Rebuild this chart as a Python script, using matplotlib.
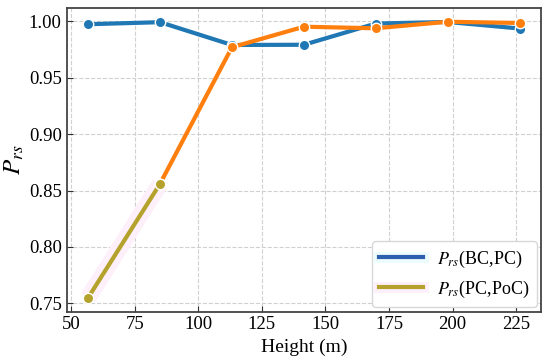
import matplotlib
matplotlib.use("Agg")
import matplotlib.pyplot as plt
import matplotlib.patheffects as pe
from matplotlib.lines import Line2D

heights = [56.6, 84.9, 113.2, 141.5, 169.8, 198.1, 226.4]
p_bc_pc = [0.9974, 0.9992, 0.9790, 0.9792, 0.9980, 0.9994, 0.9936]
p_pc_poc = [0.7550, 0.8560, 0.9770, 0.9952, 0.9938, 0.9996, 0.9985]

labels = [r"$P_{rs}$(BC,PC)", r"$P_{rs}$(PC,PoC)"]

plt.rcParams["font.family"] = ["Liberation Serif", "DejaVu Serif"]
plt.rcParams["mathtext.fontset"] = "stix"

blue = "#1f77b4"
orange = "#ff7f0e"
olive = "#b5a22c"

fig, ax = plt.subplots(figsize=(5.5, 3.61), dpi=100)

ax.plot(heights, p_bc_pc, color=blue, lw=3, marker="o", ms=7.5,
        mec="white", mew=1.0, zorder=3)
ax.plot(heights[1:], p_pc_poc[1:], color=orange, lw=3, marker="o", ms=7.5,
        mec="white", mew=1.0, zorder=4)
# first segment of the second curve: olive line with a faint pink glow
ax.plot(heights[:2], p_pc_poc[:2], color="#fdf0fa", lw=12, zorder=2,
        solid_capstyle="butt")
ax.plot(heights[:2], p_pc_poc[:2], color=olive, lw=3, marker="o", ms=7.5,
        mec="white", mew=1.0, zorder=5)

ax.set_xlabel("Height (m)", fontsize=14)
ax.set_ylabel(r"$P_{rs}$", fontsize=18)
ax.yaxis.set_label_coords(-0.085, 0.5)
ax.set_xticks([50, 75, 100, 125, 150, 175, 200, 225])
ax.set_yticks([0.75, 0.80, 0.85, 0.90, 0.95, 1.00])
ax.set_yticklabels([f"{v:.2f}" for v in [0.75, 0.80, 0.85, 0.90, 0.95, 1.00]])
ax.tick_params(direction="in", labelsize=13.5, length=4, color="#333333")
ax.grid(True, ls="--", color="#d0d0d0", lw=0.8)
ax.set_axisbelow(True)
for s in ax.spines.values():
    s.set_color("#444444")
    s.set_linewidth(1.3)

handles = [
    Line2D([], [], color="#2d5fae", lw=3,
           path_effects=[pe.Stroke(linewidth=8, foreground="#ecfbfb"), pe.Normal()]),
    Line2D([], [], color=olive, lw=3,
           path_effects=[pe.Stroke(linewidth=8, foreground="#fdf0fa"), pe.Normal()]),
]
ax.legend(handles, labels, loc="lower right", fontsize=13, frameon=True,
          edgecolor="#d8d8d8", framealpha=1.0, handlelength=2.4,
          borderaxespad=0.25)

fig.subplots_adjust(left=0.121, right=0.984, top=0.978, bottom=0.137)
fig.savefig("out.png", dpi=100)
